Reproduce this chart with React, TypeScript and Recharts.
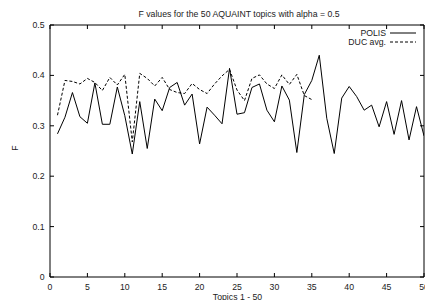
import React from "react";
import { LineChart, Line, XAxis, YAxis } from "recharts";

const topics = [
  1, 2, 3, 4, 5, 6, 7, 8, 9, 10, 11, 12, 13, 14, 15, 16, 17, 18, 19, 20, 21, 22, 23, 24, 25,
  26, 27, 28, 29, 30, 31, 32, 33, 34, 35, 36, 37, 38, 39, 40, 41, 42, 43, 44, 45, 46, 47, 48, 49, 50,
];

const polis = [
  0.284, 0.317, 0.366, 0.318, 0.305, 0.385, 0.303, 0.303, 0.377, 0.32, 0.244, 0.348, 0.255, 0.353,
  0.33, 0.376, 0.386, 0.341, 0.363, 0.264, 0.337, 0.321, 0.304, 0.414, 0.323, 0.326, 0.376, 0.383,
  0.331, 0.308, 0.379, 0.351, 0.247, 0.362, 0.39, 0.44, 0.315, 0.245, 0.355, 0.378, 0.358, 0.331,
  0.341, 0.298, 0.348, 0.283, 0.35, 0.272, 0.338, 0.28,
];

const ducAvg = [
  0.321, 0.39, 0.388, 0.383, 0.394, 0.386, 0.37, 0.396, 0.381, 0.402, 0.268, 0.404, 0.394, 0.379,
  0.396, 0.372, 0.366, 0.364, 0.384, 0.372, 0.364, 0.383, 0.399, 0.412, 0.371, 0.35, 0.394, 0.401,
  0.383, 0.374, 0.401, 0.382, 0.402, 0.36, 0.352,
];

const xTicks = [0, 5, 10, 15, 20, 25, 30, 35, 40, 45, 50];
const yTicks = [0, 0.1, 0.2, 0.3, 0.4, 0.5];

const data = topics.map((t, i) => ({ topic: t, polis: polis[i], duc: ducAvg[i] }));

const W = 425;
const H = 300;
const FONT = "'Liberation Sans', Arial, Helvetica, sans-serif";
const FS = 8.7;
const TXT = "#222";

// plot box
const L = 50;
const R = 424;
const T = 25;
const B = 277;

const BottomTick = (p: any) => (
  <g>
    <line x1={p.x} y1={B} x2={p.x} y2={B - 4} stroke="#000" />
    <text x={p.x} y={B + 12.5} textAnchor="middle" fontSize={FS} fontFamily={FONT} fill={TXT}>
      {p.payload.value}
    </text>
  </g>
);

const TopTick = (p: any) => <line x1={p.x} y1={T} x2={p.x} y2={T + 4} stroke="#000" />;

const LeftTick = (p: any) => (
  <g>
    <line x1={L} y1={p.y} x2={L + 4} y2={p.y} stroke="#000" />
    <text x={L - 5.5} y={p.y + 3} textAnchor="end" fontSize={FS} fontFamily={FONT} fill={TXT}>
      {p.payload.value}
    </text>
  </g>
);

const RightTick = (p: any) => <line x1={R} y1={p.y} x2={R - 4} y2={p.y} stroke="#000" />;

export default function App() {
  return (
    <div style={{ position: "absolute", left: 0, top: 0, width: W, height: H }}>
      <LineChart width={W} height={H} data={data} margin={{ top: T - 1, right: W - R - 1, bottom: H - B - 1, left: L - 1 }}>
        <XAxis
          dataKey="topic"
          type="number"
          domain={[0, 50]}
          ticks={xTicks}
          height={1}
          tickSize={0}
          tickLine={false}
          tick={BottomTick}
          axisLine={{ stroke: "#000" }}
          interval={0}
          allowDataOverflow
        />
        <XAxis
          xAxisId="top"
          orientation="top"
          dataKey="topic"
          type="number"
          domain={[0, 50]}
          ticks={xTicks}
          height={1}
          tickSize={0}
          tickLine={false}
          tick={TopTick}
          axisLine={{ stroke: "#000" }}
          interval={0}
          allowDataOverflow
        />
        <YAxis
          type="number"
          domain={[0, 0.5]}
          ticks={yTicks}
          width={1}
          tickSize={0}
          tickLine={false}
          tick={LeftTick}
          axisLine={{ stroke: "#000" }}
          interval={0}
          allowDataOverflow
        />
        <YAxis
          yAxisId="right"
          orientation="right"
          type="number"
          domain={[0, 0.5]}
          ticks={yTicks}
          width={1}
          tickSize={0}
          tickLine={false}
          tick={RightTick}
          axisLine={{ stroke: "#000" }}
          interval={0}
          allowDataOverflow
        />
        <Line
          dataKey="polis"
          stroke="#000"
          strokeWidth={1}
          dot={false}
          isAnimationActive={false}
        />
        <Line
          dataKey="duc"
          stroke="#000"
          strokeWidth={1}
          strokeDasharray="3 2"
          dot={false}
          isAnimationActive={false}
        />
      </LineChart>
      <svg
        width={W}
        height={H}
        style={{ position: "absolute", left: 0, top: 0, pointerEvents: "none" }}
      >
        <text x={239} y={16.5} textAnchor="middle" fontSize={FS} fontFamily={FONT} fill={TXT}>
          F values for the 50 AQUAINT topics with alpha = 0.5
        </text>
        <text x={237.5} y={299.5} textAnchor="middle" fontSize={FS} fontFamily={FONT} fill={TXT}>
          Topics 1 - 50
        </text>
        <text
          x={18}
          y={148}
          textAnchor="middle"
          fontSize={FS}
          fontFamily={FONT}
          fill={TXT}
          transform="rotate(-90 18 148)"
        >
          F
        </text>
        <text x={386} y={36} textAnchor="end" fontSize={FS} fontFamily={FONT} fill={TXT}>
          POLIS
        </text>
        <line x1={390} y1={33} x2={416} y2={33} stroke="#000" />
        <text x={386} y={45} textAnchor="end" fontSize={FS} fontFamily={FONT} fill={TXT}>
          DUC avg.
        </text>
        <line x1={390} y1={42} x2={416} y2={42} stroke="#000" strokeDasharray="3 2" />
      </svg>
    </div>
  );
}
